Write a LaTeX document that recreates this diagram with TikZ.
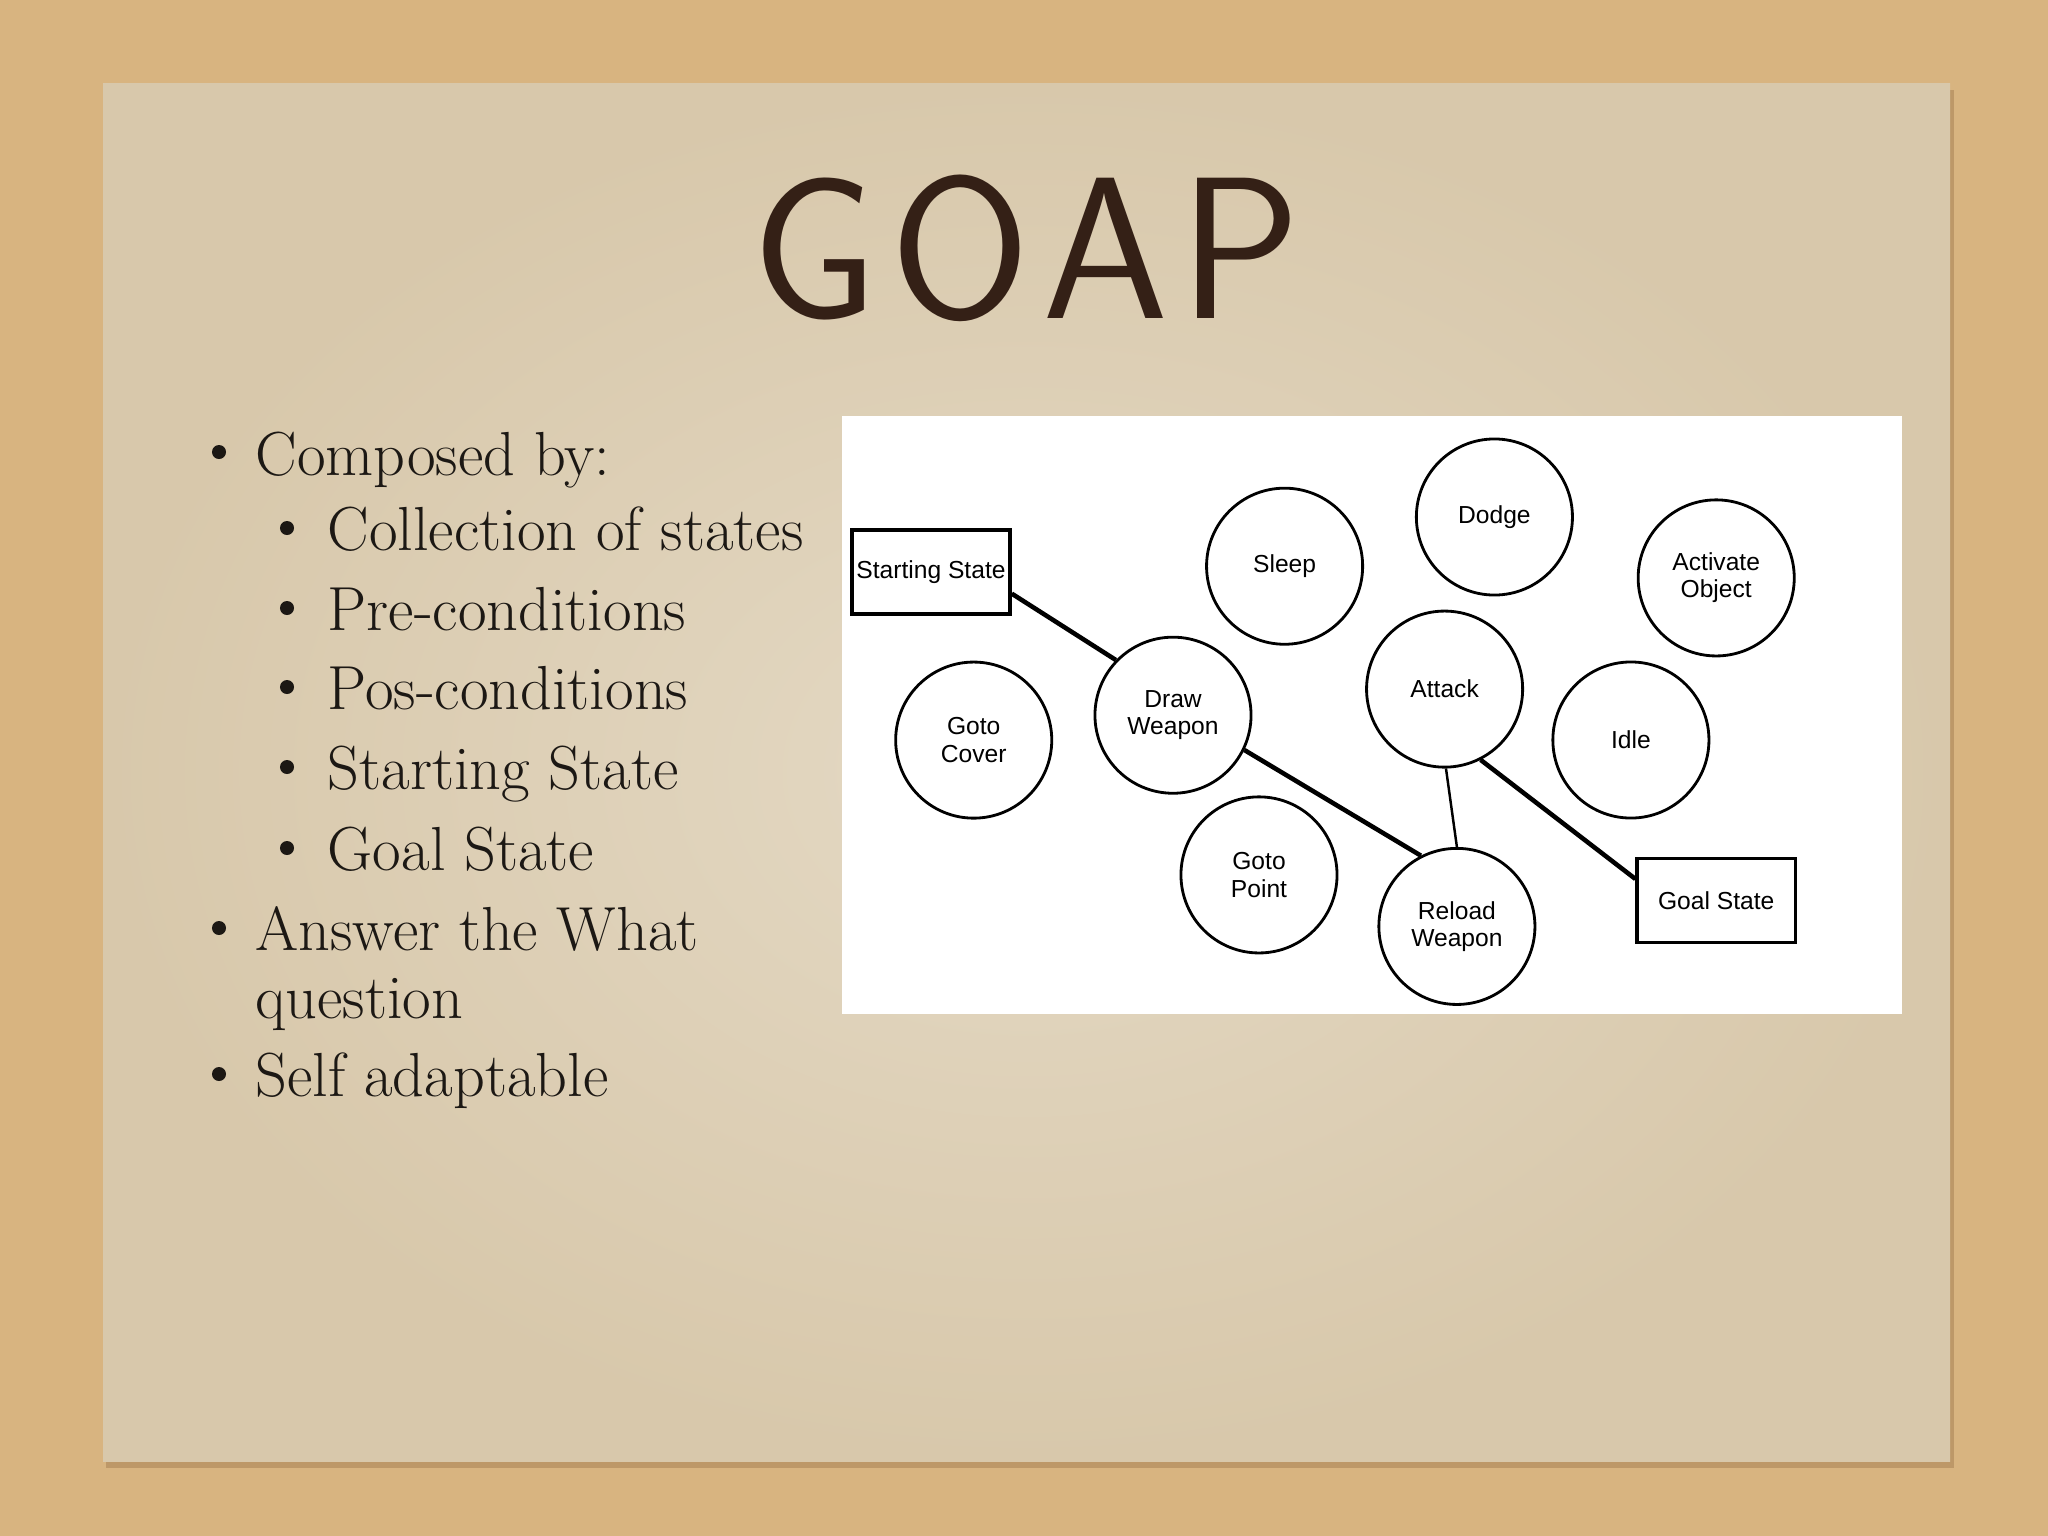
\documentclass[tikz,border=0pt]{standalone}
\usepackage{fontspec}
\newfontfamily\arialf{Liberation Sans}
\definecolor{cork}{RGB}{216,180,128}
\definecolor{paper}{RGB}{216,200,171}
\definecolor{paperlight}{RGB}{228,217,196}
\definecolor{shadowc}{RGB}{150,110,70}
\definecolor{titlec}{RGB}{52,32,22}
\definecolor{ink}{RGB}{28,24,20}
\begin{document}
\begin{tikzpicture}[x=0.01cm,y=-0.01cm,
  st/.style={draw=black, line width=0.8pt, circle, minimum size=1.56cm, inner sep=0pt,
    font=\arialf\fontsize{7}{7.8}\selectfont, align=center, fill=white},
  box/.style={draw=black, line width=1pt, rectangle, minimum width=1.58cm, minimum height=0.84cm,
    inner sep=0pt, font=\arialf\fontsize{7}{7.8}\selectfont, fill=white},
  link/.style={line width=1.3pt},
  thinlink/.style={line width=0.7pt},
  itemtext/.style={anchor=base west, font=\fontsize{17.7}{20}\selectfont, text=ink, inner sep=0pt},
  dot/.style={circle, fill=ink, inner sep=0pt, minimum size=0.14cm}
]
\useasboundingbox (0,0) rectangle (2048,1536);
\fill[cork] (0,0) rectangle (2048,1536);
% paper with shadow
\fill[shadowc, opacity=0.4] (106,90) rectangle (1954,1468);
\shade[inner color=paperlight, outer color=paper] (103,83) rectangle (1950,1461);

% title
\node[font=\sffamily\fontsize{57.5}{60}\selectfont, text=titlec, inner sep=0pt] (title) at (1026,248) {G\kern3.5pt O\kern3.5pt A\kern3pt P};

% bullet list
\node[dot] (b1) at (219,452) {};
\node[itemtext] (t1) at (255,475) {Composed by:};
\node[dot] (b2) at (287,528) {};
\node[itemtext] (t2) at (327,550) {Collection of states};
\node[dot] (b3) at (287,608) {};
\node[itemtext] (t3) at (327,630) {Pre-conditions};
\node[dot] (b4) at (287,687) {};
\node[itemtext] (t4) at (327,709) {Pos-conditions};
\node[dot] (b5) at (287,767) {};
\node[itemtext] (t5) at (327,789) {Starting State};
\node[dot] (b6) at (287,848) {};
\node[itemtext] (t6) at (327,870) {Goal State};
\node[dot] (b7) at (219,928) {};
\node[itemtext] (t7) at (255,950) {Answer the What};
\node[itemtext] (t7b) at (255,1018) {question};
\node[dot] (b8) at (219,1074) {};
\node[itemtext] (t8) at (255,1096) {Self adaptable};

% diagram panel
\fill[white] (842,416) rectangle (1902,1014);

\node[box] (start) at (931,572) {Starting State};
\node[st] (sleep) at (1284.6,566.2) {Sleep};
\node[st] (dodge) at (1494.4,517) {Dodge};
\node[st] (activate) at (1716.2,577.9) {Activate\\Object};
\node[st] (gotocover) at (973.7,740.1) {Goto\\Cover};
\node[st] (drawweapon) at (1173,715.2) {Draw\\Weapon};
\node[st] (attack) at (1444.6,689.1) {Attack};
\node[st] (idle) at (1630.9,740) {Idle};
\node[st] (gotopoint) at (1259,874.9) {Goto\\Point};
\node[st] (reload) at (1456.9,926.4) {Reload\\Weapon};
\node[box] (goal) at (1716.2,900.6) {Goal State};

\draw[link] (start.-15) -- (drawweapon.136);
\draw[link] (drawweapon.-26) -- (reload.117);
\draw[thinlink] (attack.-89) -- (reload.90);
\draw[link] (attack.-63) -- (goal.165);
\end{tikzpicture}
\end{document}
